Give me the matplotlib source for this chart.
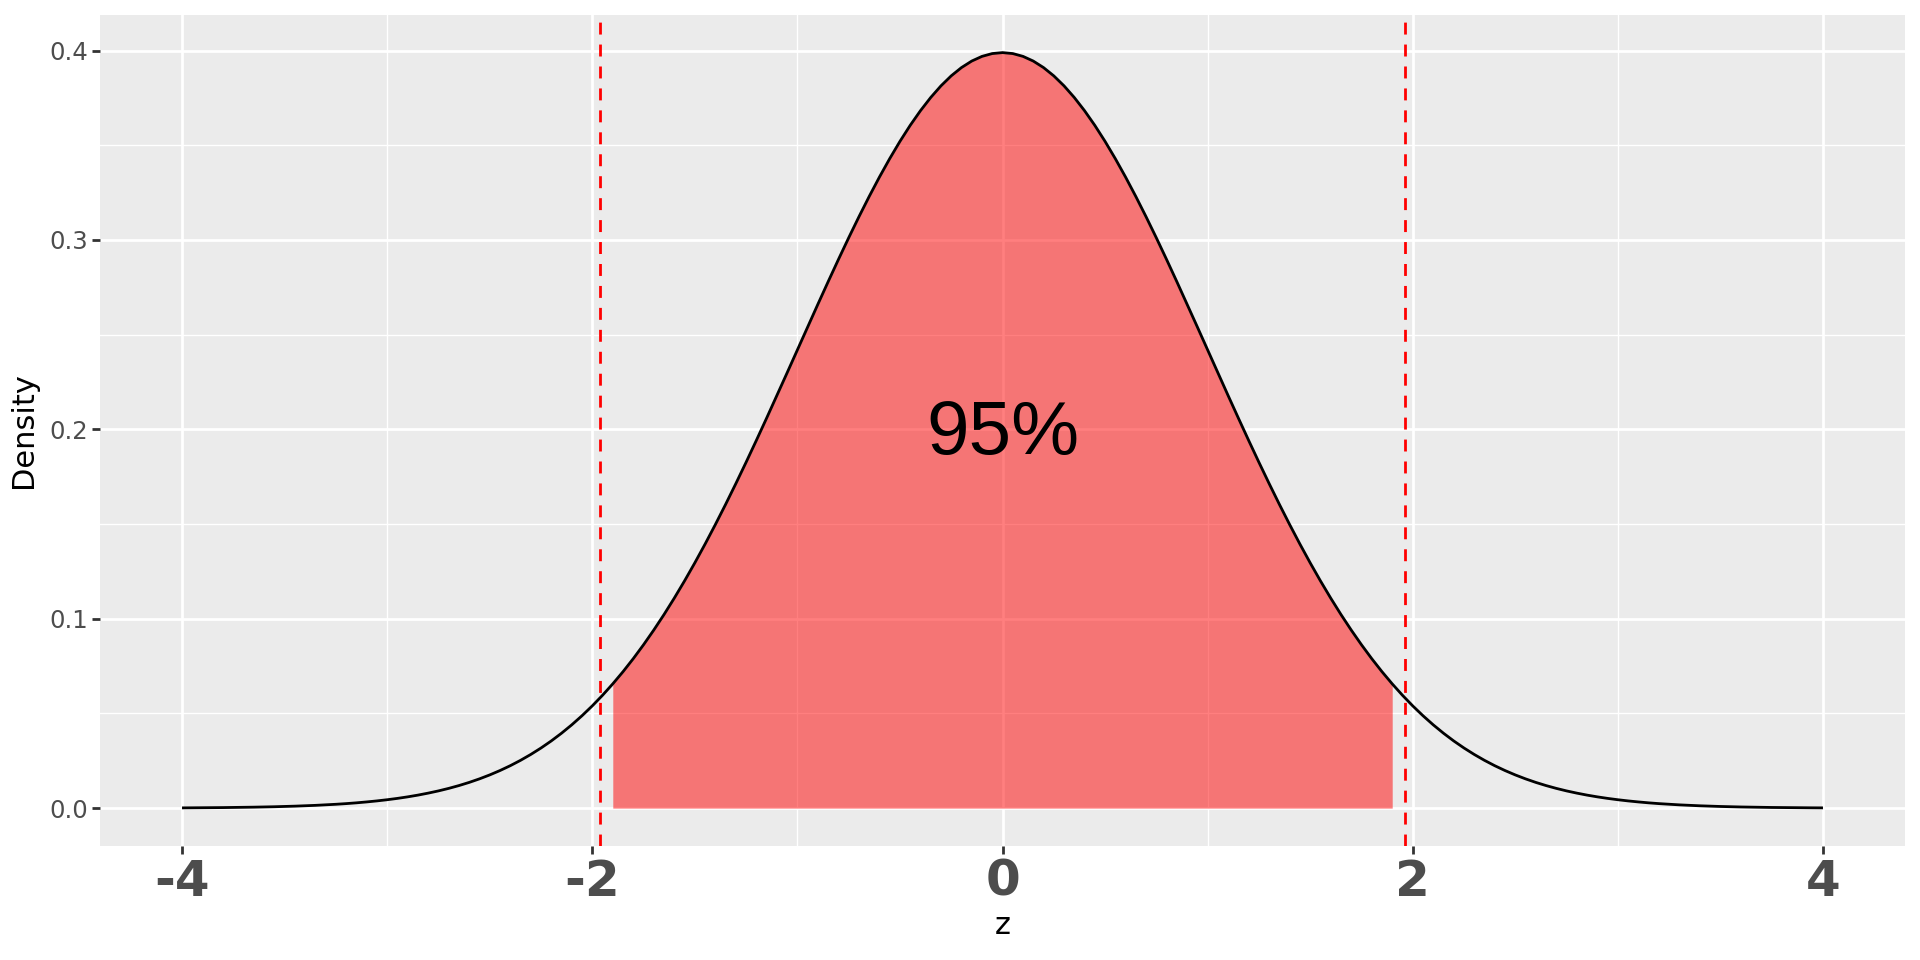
import matplotlib
matplotlib.use("Agg")
import matplotlib.pyplot as plt
from matplotlib.ticker import MultipleLocator, FormatStrFormatter

plt.rcParams['axes.unicode_minus'] = False
plt.rcParams['lines.scale_dashes'] = False

# Standard normal density read at z = 0.00 ... 4.00 (step 0.05), mirrored for z < 0
half_z = [round(0.05 * i, 2) for i in range(81)]
half_d = [0.39894, 0.39844, 0.39695, 0.39448, 0.39104, 0.38667, 0.38139, 0.37524,
          0.36827, 0.36053, 0.35207, 0.34294, 0.33322, 0.32297, 0.31225, 0.30114,
          0.28969, 0.27798, 0.26609, 0.25406, 0.24197, 0.22988, 0.21785, 0.20594,
          0.19419, 0.18265, 0.17137, 0.16038, 0.14973, 0.13943, 0.12952, 0.12001,
          0.11092, 0.10226, 0.09405, 0.08628, 0.07895, 0.07206, 0.06562, 0.05959,
          0.05399, 0.04879, 0.04398, 0.03955, 0.03547, 0.03174, 0.02833, 0.02522,
          0.02239, 0.01984, 0.01753, 0.01545, 0.01358, 0.01191, 0.01042, 0.00909,
          0.00792, 0.00687, 0.00595, 0.00514, 0.00443, 0.00381, 0.00327, 0.00279,
          0.00238, 0.00203, 0.00172, 0.00146, 0.00123, 0.00104, 0.00087, 0.00073,
          0.00061, 0.00051, 0.00042, 0.00035, 0.00029, 0.00024, 0.00020, 0.00016,
          0.00013]
z_vals = [-z for z in half_z[::-1]] + half_z[1:]
density = half_d[::-1] + half_d[1:]

fill_lo, fill_hi = -1.9, 1.9
crit_vals = [-1.96, 1.96]
label_text = "95%"
label_x, label_y = 0.0, 0.2
x_ticks = [-4, -2, 0, 2, 4]
y_ticks = [0.0, 0.1, 0.2, 0.3, 0.4]

fig = plt.figure(figsize=(19.2, 9.6), dpi=100)
ax = fig.add_axes([100/1920, 1 - 846/960, (1905-100)/1920, (846-15)/960])
ax.set_facecolor("#EBEBEB")
for s in ax.spines.values():
    s.set_visible(False)

eps = 1e-9
fz = [z for z in z_vals if fill_lo - eps <= z <= fill_hi + eps]
fd = [d for z, d in zip(z_vals, density) if fill_lo - eps <= z <= fill_hi + eps]
ax.fill_between(fz, 0, fd, color="red", alpha=0.5, linewidth=0, zorder=2)
ax.plot(z_vals, density, color="black", lw=2.0, zorder=3, solid_capstyle="butt")
for c in crit_vals:
    ax.axvline(c, color="red", lw=2.0, linestyle=(0, (8.6, 7.2)), zorder=4)

ax.annotate(label_text, xy=(label_x, label_y), xytext=(0, -4), textcoords="offset points",
            ha="center", va="center", fontsize=55, family="Liberation Sans",
            color="black", zorder=5)

ax.set_xlim(-4.4, 4.4)
ax.set_ylim(-0.02, 0.4188)
ax.set_xticks(x_ticks)
ax.set_yticks(y_ticks)
ax.xaxis.set_minor_locator(MultipleLocator(1))
ax.yaxis.set_minor_locator(MultipleLocator(0.05))
ax.yaxis.set_major_formatter(FormatStrFormatter("%.1f"))
ax.grid(which="major", color="white", lw=2.0)
ax.grid(which="minor", color="white", lw=1.0)
ax.set_axisbelow(True)

ax.tick_params(which="major", length=5.5, width=2.0, color="#333333")
ax.tick_params(which="minor", length=0)
ax.tick_params(axis="y", labelsize=17.6, labelcolor="#4D4D4D", pad=3)
ax.tick_params(axis="x", labelsize=36, labelcolor="#4D4D4D", pad=3)
for lab in ax.get_xticklabels():
    lab.set_fontweight("bold")

ax.set_xlabel("z", fontsize=22, color="black", labelpad=4)
ax.set_ylabel("Density", fontsize=22, color="black", labelpad=8)

fig.savefig("out.png", dpi=100, facecolor="white")
